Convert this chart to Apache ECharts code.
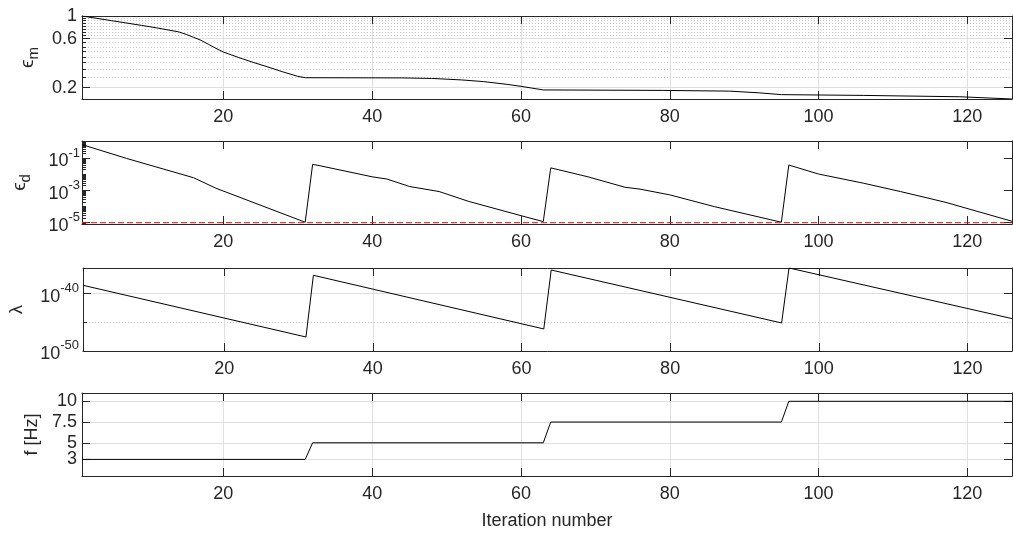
<!DOCTYPE html>
<html lang="en">
<head>
  <meta charset="utf-8">
  <title>Iteration history</title>
  <script src="https://cdn.jsdelivr.net/npm/echarts@6/dist/echarts.min.js"></script>
</head>
<body style="margin:0;background:#fff;">
<div id="chart1" style="width:1013px;height:537px;"></div>
<script>
  // x axis
  var iterTicks = [20, 40, 60, 80, 100, 120];
  var iterMin = 1, iterMax = 126;

  // panel 1 : eps_m (log axis)
  var emTicks = [0.2, 0.6, 1];
  var emMinor = [0.25, 0.3, 0.35, 0.4, 0.45, 0.5, 0.55, 0.65, 0.7, 0.75, 0.8, 0.85, 0.9, 0.95];
  var emRange = [0.155, 1];
  var emData = [[1, 1.0], [5, 0.9], [9, 0.81], [11, 0.767], [14, 0.70], [15, 0.662], [16, 0.62], [17, 0.579], [18, 0.529],
                [19, 0.484], [20, 0.445], [22, 0.395], [24, 0.353], [26, 0.318], [28, 0.285], [30, 0.258], [31, 0.25],
                [44, 0.249], [48, 0.246], [52, 0.238], [55, 0.229], [58, 0.216], [60, 0.206], [63, 0.19],
                [79, 0.188], [88, 0.185], [92, 0.178], [95, 0.171],
                [106, 0.168], [119, 0.163], [126, 0.155]];

  // panel 2 : eps_d (log axis)
  var edTicks = [1e-5, 1e-3, 1e-1];
  var edDecades = [1e-6, 1e-5, 1e-4, 1e-3, 1e-2, 1e-1, 1];
  var edMantissa = [1, 2, 3, 4, 5, 6, 7, 8, 9];
  var edRange = [8.3e-6, 1.22];
  var edTol = [[1, 1e-5], [126, 1e-5]];
  var edData = [[1, 0.73], [7, 0.1], [16, 6.3e-3], [19, 1.4e-3], [31, 1.07e-5],
                [32, 0.043], [33, 0.035], [40, 7.2e-3], [42, 5.2e-3], [45, 1.8e-3], [49, 8.7e-4], [53, 2.1e-4], [60, 2.75e-5], [63, 1.17e-5],
                [64, 0.026], [69, 7.2e-3], [74, 1.6e-3], [76, 1.23e-3], [80, 5.4e-4], [86, 1.0e-4], [95, 1.07e-5],
                [96, 0.039], [100, 0.0107], [106, 2.9e-3], [111, 8.7e-4], [117, 1.9e-4], [126, 1.23e-5]];

  // panel 3 : lambda, drawn on log10 scale (exponents)
  var lamTicks = [-50, -40];
  var lamMinor = [-45];
  var lamRange = [-50, -35.54];
  var lamData = [[1, 2.8e-39], [31, 2.75e-48], [32, 1.55e-37], [63, 6.9e-47],
                 [64, 1.29e-36], [95, 7.6e-46], [96, 2.9e-36], [126, 4.4e-45]];

  // panel 4 : frequency
  var fTicks = [3, 5, 7.5, 10];
  var fRange = [1, 11];
  var fData = [[1, 3], [31, 3], [32, 5], [63, 5], [64, 7.5], [95, 7.5], [96, 10], [126, 10]];

  var edMinor = [];
  edDecades.forEach(function (d) {
    edMantissa.forEach(function (m) { edMinor.push(m * d); });
  });

  var ink = '#262626';
  var font = 'Liberation Sans, Arial, sans-serif';
  var gridCol = '#dfdfdf';
  var minorCol = '#c8c8c8';

  var chart1 = echarts.init(document.getElementById('chart1'));

  var grids = [
    {left: 82, width: 930, top: 16, height: 83},
    {left: 82, width: 930, top: 141, height: 83},
    {left: 82, width: 930, top: 268, height: 83},
    {left: 82, width: 930, top: 393, height: 83}
  ];

  var xAxes = [];
  var yAxes = [];

  function addX(gi, showGrid, name) {
    xAxes.push({
      type: 'value', gridIndex: gi, min: iterMin, max: iterMax, position: 'bottom',
      name: name || '', nameLocation: 'middle', nameGap: 36,
      nameTextStyle: {color: ink, fontFamily: font, fontSize: 18},
      axisLine: {show: true, onZero: false, lineStyle: {color: ink, width: 1}},
      axisTick: {show: true, inside: true, length: 8, customValues: iterTicks, lineStyle: {color: ink}},
      axisLabel: {show: true, customValues: iterTicks, margin: 9, color: ink, fontFamily: font, fontSize: 18,
        showMinLabel: true, showMaxLabel: true},
      splitLine: {show: showGrid, lineStyle: {color: gridCol, width: 1}}
    });
    var bottomIdx = xAxes.length - 1;
    xAxes.push({
      type: 'value', gridIndex: gi, min: iterMin, max: iterMax, position: 'top',
      axisLine: {show: true, onZero: false, lineStyle: {color: ink, width: 1}},
      axisTick: {show: true, inside: true, length: 8, customValues: iterTicks, lineStyle: {color: ink}},
      axisLabel: {show: false},
      splitLine: {show: false}
    });
    return bottomIdx;
  }

  function expText(e) {
    return '{b|10}{s|' + e + '}';
  }
  var expRich = {
    b: {fontSize: 18, fontFamily: font, color: ink, verticalAlign: 'bottom', padding: [6, 0, 0, 0]},
    s: {fontSize: 13, fontFamily: font, color: ink, verticalAlign: 'top'}
  };

  function labelStyle(values, o) {
    var l = {show: true, customValues: values, margin: o.margin, color: ink, fontFamily: font,
      fontSize: 18, showMinLabel: true, showMaxLabel: true, hideOverlap: false};
    if (o.fmt) {
      l.formatter = o.fmt;
      l.rich = expRich;
    }
    return l;
  }

  function addY(gi, o) {
    var type = o.log ? 'log' : 'value';
    // labels of neighbouring ticks can sit close together: put every other one on a label-only axis
    var labA = o.ticks, labB = null;
    if (o.splitLabels) {
      labA = o.ticks.filter(function (v, i) { return i % 2 === 0; });
      labB = o.ticks.filter(function (v, i) { return i % 2 === 1; });
    }
    var main = {
      type: type, gridIndex: gi, min: o.range[0], max: o.range[1], position: 'left',
      name: o.name, nameLocation: 'middle', nameGap: o.nameGap, nameRotate: 90,
      nameTextStyle: {color: ink, fontFamily: font, fontSize: 18, rich: {
        e: {fontSize: 19, fontFamily: font, color: ink, verticalAlign: 'top'},
        m: {fontSize: 15, fontFamily: font, color: ink, verticalAlign: 'bottom', padding: [8, 0, 0, 0]},
        t: {fontSize: 18, fontFamily: font, color: ink}
      }},
      axisLine: {show: true, onZero: false, lineStyle: {color: ink, width: 1}},
      axisTick: {show: true, inside: true, length: 8, customValues: o.ticks, lineStyle: {color: ink}},
      axisLabel: labelStyle(labA, o),
      splitLine: {show: o.grid, lineStyle: {color: gridCol, width: 1}}
    };
    yAxes.push(main);
    var mainIdx = yAxes.length - 1;
    if (labB) {
      yAxes.push({
        type: type, gridIndex: gi, min: o.range[0], max: o.range[1], position: 'left',
        axisLine: {show: false}, axisTick: {show: false},
        axisLabel: labelStyle(labB, o),
        splitLine: {show: false}
      });
    }
    if (o.minor) {
      yAxes.push({
        type: type, gridIndex: gi, min: o.range[0], max: o.range[1], position: 'left',
        axisLine: {show: false},
        axisTick: {show: true, inside: true, length: 4, customValues: o.minor, lineStyle: {color: ink}},
        axisLabel: {show: false},
        splitLine: {show: o.minorGrid, lineStyle: {color: minorCol, width: 1, type: [1, 2]}}
      });
    }
    yAxes.push({
      type: type, gridIndex: gi, min: o.range[0], max: o.range[1], position: 'right',
      axisLine: {show: true, onZero: false, lineStyle: {color: ink, width: 1}},
      axisTick: {show: true, inside: true, length: 8, customValues: o.ticks, lineStyle: {color: ink}},
      axisLabel: {show: false},
      splitLine: {show: false}
    });
    return mainIdx;
  }

  var x0 = addX(0, true), x1 = addX(1, false), x2 = addX(2, true), x3 = addX(3, true, 'Iteration number');

  var y0 = addY(0, {log: true, range: emRange, ticks: emTicks, minor: emMinor, minorGrid: true, grid: true,
    margin: 5, name: '{e|ϵ}{m|m}', nameGap: 39});
  var y1 = addY(1, {log: true, range: edRange, ticks: edTicks, minor: edMinor, minorGrid: false, grid: false,
    margin: 2, name: '{e|ϵ}{m|d}', nameGap: 49,
    fmt: function (v) { return expText(Math.round(Math.log(v) / Math.LN10)); }});
  var y2 = addY(2, {log: false, range: lamRange, ticks: lamTicks, minor: lamMinor, minorGrid: true, grid: true,
    margin: 4, name: '{t|λ}', nameGap: 57,
    fmt: function (v) { return expText(Math.round(v)); }});
  var y3 = addY(3, {log: false, range: fRange, ticks: fTicks, grid: true, splitLabels: true,
    margin: 5, name: '{t|f [Hz]}', nameGap: 39});

  function lineSeries(xi, yi, data) {
    return {
      type: 'line', xAxisIndex: xi, yAxisIndex: yi, data: data,
      showSymbol: false, symbol: 'none', animation: false, silent: true,
      lineStyle: {color: '#000', width: 1}
    };
  }

  var tolSeries = lineSeries(x1, y1, edTol);
  tolSeries.lineStyle = {color: '#ff0000', width: 1, type: [6, 3]};
  tolSeries.z = 3;

  var lamLog = lamData.map(function (p) { return [p[0], Math.log(p[1]) / Math.LN10]; });

  var option = {
    animation: false,
    backgroundColor: '#fff',
    textStyle: {fontFamily: font},
    grid: grids,
    xAxis: xAxes,
    yAxis: yAxes,
    series: [
      lineSeries(x0, y0, emData),
      lineSeries(x1, y1, edData),
      tolSeries,
      lineSeries(x2, y2, lamLog),
      lineSeries(x3, y3, fData)
    ]
  };
  chart1.setOption(option);

  window.addEventListener('resize', function () { chart1.resize(); });
</script>
</body>
</html>
